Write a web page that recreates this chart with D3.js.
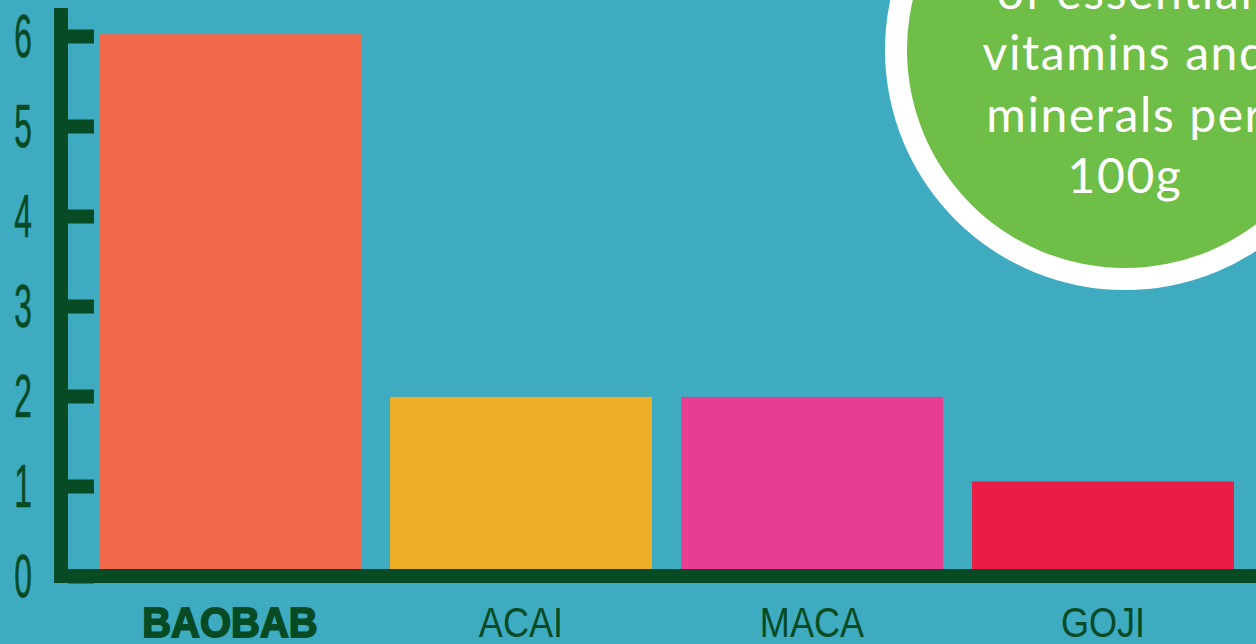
<!DOCTYPE html>
<html>
<head>
<meta charset="utf-8">
<script src="https://cdn.jsdelivr.net/npm/d3@7"></script>
<style>
  html, body { margin: 0; padding: 0; background: #3fabc0; overflow: hidden; }
  svg { display: block; }
</style>
</head>
<body>
<svg id="chart" width="1256" height="644"></svg>
<script>
// ---- data ----
const categories = ["BAOBAB", "ACAI", "MACA", "GOJI"];
const values = [6.02, 1.99, 1.99, 1.05];
const barColors = ["#f1694a", "#ecae24", "#e93d94", "#e91d45"];
const yTicks = [0, 1, 2, 3, 4, 5, 6];
const calloutLines = ["of essential", "vitamins and", "minerals per", "100g"];

// ---- layout ----
const W = 1256, H = 644;
const axisColor = "#074b25";
const svg = d3.select("#chart");

svg.append("rect").attr("width", W).attr("height", H).attr("fill", "#3fabc0");

const x = d3.scaleBand().domain(categories).range([99, 1234]).paddingInner(0.1).paddingOuter(0);
const y = d3.scaleLinear().domain([0, 6]).range([576, 36]);

// bars
svg.append("g").selectAll("rect").data(categories).join("rect")
  .attr("x", d => x(d))
  .attr("width", x.bandwidth())
  .attr("y", (d, i) => y(values[i]))
  .attr("height", (d, i) => y(0) - y(values[i]))
  .attr("fill", (d, i) => barColors[i]);

// y axis ticks
const yAxis = d3.axisLeft(y).tickValues(yTicks).tickFormat(d3.format("d"))
  .tickSizeInner(-26).tickSizeOuter(0).tickPadding(0);
const gy = svg.append("g").attr("transform", "translate(68,0)").call(yAxis);
gy.select(".domain").remove();
gy.selectAll(".tick line").attr("stroke", axisColor).attr("stroke-width", 14);
gy.selectAll(".tick text")
  .attr("x", null).attr("dy", null)
  .attr("text-anchor", "middle")
  .attr("fill", axisColor)
  .attr("stroke", axisColor)
  .attr("stroke-width", 0.6)
  .attr("font-family", "'Liberation Sans', Arial, sans-serif")
  .attr("font-size", 61)
  .attr("transform", "translate(-45,20) scale(0.52,1)");

// axis lines
svg.append("rect").attr("x", 54).attr("y", 8).attr("width", 14).attr("height", 575).attr("fill", axisColor);
svg.append("rect").attr("x", 54).attr("y", 569).attr("width", W - 54).attr("height", 14).attr("fill", axisColor);

// category labels
const gx = svg.append("g").attr("transform", "translate(0,637)")
  .call(d3.axisBottom(x).tickSize(0).tickPadding(0));
gx.select(".domain").remove();
gx.selectAll(".tick text")
  .attr("y", 0).attr("dy", null)
  .attr("fill", axisColor)
  .attr("font-family", "'Liberation Sans', Arial, sans-serif")
  .attr("font-size", 43)
  .attr("font-weight", 400)
  .attr("transform", "scale(0.84,1)");
gx.selectAll(".tick text").filter((d, i) => i === 0)
  .attr("font-size", 43)
  .attr("font-weight", 700)
  .attr("stroke", axisColor)
  .attr("stroke-width", 1.8)
  .attr("transform", "scale(0.93,1)");

// callout circle
const cx = 1125, cy = 50;
svg.append("circle").attr("cx", cx).attr("cy", cy).attr("r", 240).attr("fill", "#ffffff");
svg.append("circle").attr("cx", cx).attr("cy", cy).attr("r", 218).attr("fill", "#6fbe48");
svg.append("g").selectAll("text").data(calloutLines).join("text")
  .attr("x", cx)
  .attr("y", (d, i) => 9 + i * 61.3)
  .attr("text-anchor", "middle")
  .attr("fill", "#ffffff")
  .attr("font-family", "Lato, 'Open Sans', sans-serif")
  .attr("font-size", 48)
  .attr("letter-spacing", 1.6)
  .text(d => d);
</script>
</body>
</html>
